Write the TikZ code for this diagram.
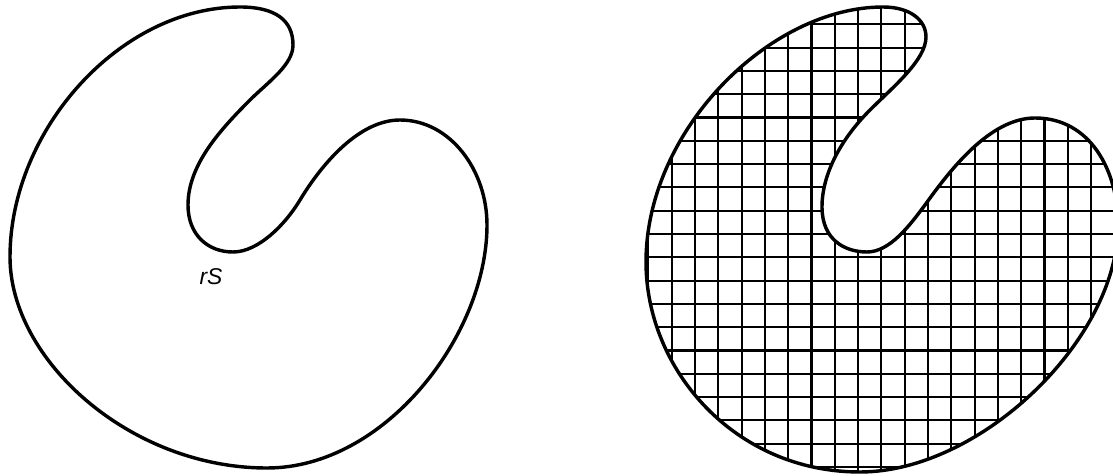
\documentclass[tikz,border=0pt]{standalone}
\usepackage{fontspec}
\setsansfont{Liberation Sans}
\usetikzlibrary{positioning}

% outlines of the two regions, in pixel units
\newcommand{\blobleft}{(240,7)
    .. controls (275,7) and (293,20) .. (293,45)
    .. controls (293,65) and (268,82) .. (250,100)
    .. controls (220,130) and (188,165) .. (188,205)
    .. controls (188,235) and (208,252) .. (233,252)
    .. controls (258,252) and (285,225) .. (300,200)
    .. controls (323,162) and (360,120) .. (400,120)
    .. controls (450,120) and (487,170) .. (487,225)
    .. controls (487,335) and (385,468) .. (267,468)
    .. controls (130,468) and (10,360) .. (10,257)
    .. controls (10,130) and (120,7) .. cycle}
\newcommand{\blobright}{(883,7)
    .. controls (910,7) and (926,20) .. (926,37)
    .. controls (926,60) and (893,87) .. (870,110)
    .. controls (840,140) and (822,175) .. (822,207)
    .. controls (822,240) and (845,252) .. (867,252)
    .. controls (890,252) and (910,225) .. (925,205)
    .. controls (950,170) and (990,118) .. (1035,118)
    .. controls (1090,118) and (1118,170) .. (1118,225)
    .. controls (1118,340) and (980,472) .. (860,472)
    .. controls (735,472) and (646,370) .. (646,262)
    .. controls (646,130) and (770,7) .. cycle}

\begin{document}
\begin{tikzpicture}[x=0.02cm, y=-0.02cm,
        outline/.style={line width=1.95pt, line join=round},
        gridline/.style={line width=1.2pt},
        lbl/.style={font=\sffamily\itshape\fontsize{13}{15}\selectfont,
            inner sep=0pt},
    ]
        \useasboundingbox (0,0) rectangle (1113,476);

        % Left region
        \draw[outline] \blobleft;
        \node[lbl] (rs) at (211,277) {rS};

        % Right region with grid
        \begin{scope}
            \clip \blobright;
            \foreach \k in {-1,...,19} {
                \draw[gridline] (671.7+23.3*\k, 0) -- (671.7+23.3*\k, 476);
            }
            \foreach \k in {-1,...,20} {
                \draw[gridline] (640, 24.3+23.3*\k) -- (1120, 24.3+23.3*\k);
            }
        \end{scope}
        \draw[outline] \blobright;
    \end{tikzpicture}
\end{document}
